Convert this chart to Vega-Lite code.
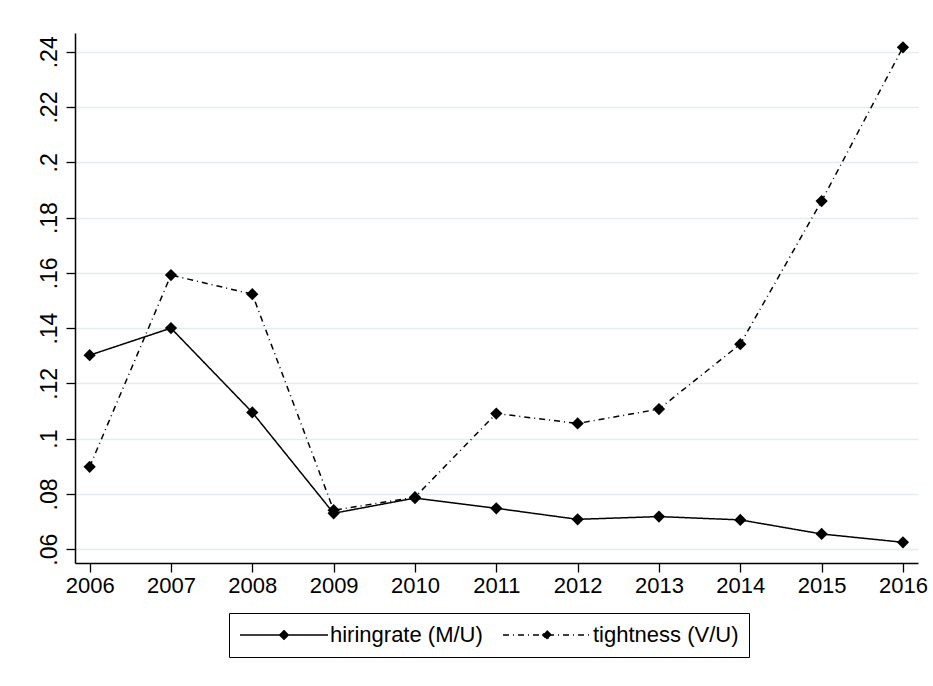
{
  "$schema": "https://vega.github.io/schema/vega-lite/v6.json",
  "width": 843,
  "height": 530,
  "autosize": {"type": "none"},
  "padding": {"left": 75, "top": 33, "right": 15, "bottom": 123},
  "background": "white",
  "config": {
    "view": {"stroke": null},
    "font": "Liberation Sans",
    "axis": {"labelColor": "black", "domainColor": "black", "tickColor": "black", "labelFont": "Liberation Sans"}
  },
  "data": {
    "values": [
      {"year": 2006, "series": "hiringrate (M/U)", "value": 0.1302},
      {"year": 2007, "series": "hiringrate (M/U)", "value": 0.1400},
      {"year": 2008, "series": "hiringrate (M/U)", "value": 0.1095},
      {"year": 2009, "series": "hiringrate (M/U)", "value": 0.0730},
      {"year": 2010, "series": "hiringrate (M/U)", "value": 0.0785},
      {"year": 2011, "series": "hiringrate (M/U)", "value": 0.0748},
      {"year": 2012, "series": "hiringrate (M/U)", "value": 0.0708},
      {"year": 2013, "series": "hiringrate (M/U)", "value": 0.0718},
      {"year": 2014, "series": "hiringrate (M/U)", "value": 0.0706},
      {"year": 2015, "series": "hiringrate (M/U)", "value": 0.0655},
      {"year": 2016, "series": "hiringrate (M/U)", "value": 0.0625},
      {"year": 2006, "series": "tightness (V/U)", "value": 0.0898},
      {"year": 2007, "series": "tightness (V/U)", "value": 0.1592},
      {"year": 2008, "series": "tightness (V/U)", "value": 0.1523},
      {"year": 2009, "series": "tightness (V/U)", "value": 0.0741},
      {"year": 2010, "series": "tightness (V/U)", "value": 0.0788},
      {"year": 2011, "series": "tightness (V/U)", "value": 0.1091},
      {"year": 2012, "series": "tightness (V/U)", "value": 0.1055},
      {"year": 2013, "series": "tightness (V/U)", "value": 0.1107},
      {"year": 2014, "series": "tightness (V/U)", "value": 0.1342},
      {"year": 2015, "series": "tightness (V/U)", "value": 0.1860},
      {"year": 2016, "series": "tightness (V/U)", "value": 0.2416}
    ]
  },
  "encoding": {
    "x": {
      "field": "year", "type": "quantitative",
      "scale": {"domain": [2005.82, 2016.185], "nice": false, "zero": false},
      "axis": {
        "title": null, "values": [2006, 2007, 2008, 2009, 2010, 2011, 2012, 2013, 2014, 2015, 2016],
        "format": "d", "grid": false, "labelFontSize": 22, "labelPadding": 3,
        "tickSize": 9, "tickWidth": 1.3, "domainWidth": 1.5
      }
    },
    "y": {
      "field": "value", "type": "quantitative",
      "scale": {"domain": [0.055, 0.2468], "nice": false, "zero": false},
      "axis": {
        "title": null, "values": [0.06, 0.08, 0.1, 0.12, 0.14, 0.16, 0.18, 0.2, 0.22, 0.24],
        "labelExpr": "replace(format(datum.value, '.2~f'), '0.', '.')",
        "labelAngle": 270, "labelAlign": "center", "labelBaseline": "bottom",
        "labelFontSize": 23, "labelPadding": 5,
        "tickSize": 9, "tickWidth": 1.3, "domainWidth": 1.5,
        "grid": true, "gridColor": "#e4eef0", "gridWidth": 1.3
      }
    }
  },
  "layer": [
    {
      "mark": {"type": "line", "color": "black", "strokeWidth": 1.5},
      "encoding": {
        "strokeDash": {
          "field": "series", "type": "nominal",
          "scale": {"domain": ["hiringrate (M/U)", "tightness (V/U)"], "range": [[1, 0], [6, 4, 1, 4]]},
          "legend": {
            "title": null, "orient": "none", "legendX": 154, "legendY": 580,
            "direction": "horizontal", "columns": 2, "clipHeight": 24,
            "strokeColor": "black", "fillColor": "white", "padding": 10, "cornerRadius": 0,
            "columnPadding": 19, "labelOffset": 1, "labelFontSize": 22, "labelColor": "black",
            "labelFont": "Liberation Sans", "labelLimit": 300,
            "symbolType": "M-1,0L1,0M0,-0.1L0.1,0L0,0.1L-0.1,0Z",
            "symbolSize": 7744, "symbolStrokeColor": "black", "symbolFillColor": "black",
            "symbolStrokeWidth": 1.3
          }
        }
      }
    },
    {
      "mark": {"type": "point", "shape": "diamond", "filled": true, "color": "black", "size": 150, "opacity": 1},
      "encoding": {"detail": {"field": "series"}}
    }
  ]
}
